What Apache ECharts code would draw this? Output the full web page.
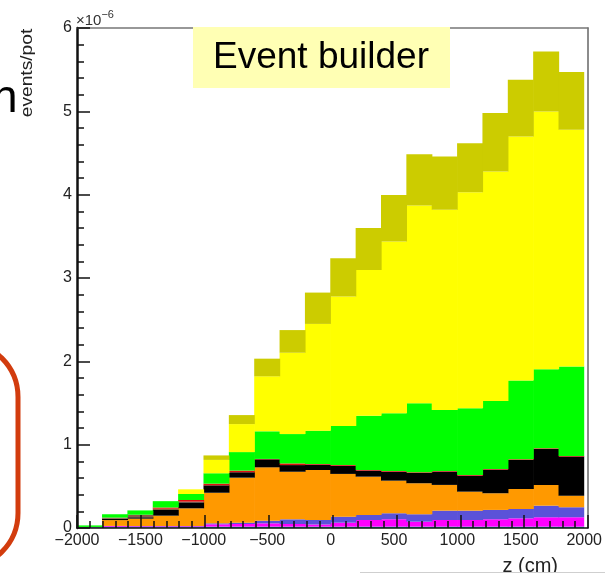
<!DOCTYPE html>
<html>
<head>
<meta charset="utf-8">
<script src="https://cdn.jsdelivr.net/npm/echarts@6/dist/echarts.min.js"></script>
<style>
  html, body { margin: 0; padding: 0; background: #fff; }
  #wrap { position: relative; width: 605px; height: 573px; }
  #c, #frame { position: absolute; left: 0; top: 0; width: 605px; height: 573px; }
  #frame { pointer-events: none; }
</style>
</head>
<body>
<div id="wrap">
  <div id="c"></div>
  <div id="frame"></div>
</div>
<script>
// z bins (lower edges, cm), each 200 cm wide
const zBins = ['-2000','-1800','-1600','-1400','-1200','-1000','-800','-600','-400','-200',
               '0','200','400','600','800','1000','1200','1400','1600','1800'];
const xTicks = [-2000, -1500, -1000, -500, 0, 500, 1000, 1500, 2000];
const yTicks = [0, 1, 2, 3, 4, 5, 6];

// stacked contributions, events/pot in units of 1e-6 (bottom to top)
const cyanVals    = [0.005,0.010,0.008,0.008,0.008,0.016,0.016,0.016,0.016,0.016,0.016,0.016,0.016,0.016,0.016,0.016,0.016,0.016,0.016,0.016];
const magentaVals = [0.003,0.012,0.012,0.012,0.012,0.028,0.032,0.040,0.032,0.026,0.048,0.080,0.089,0.060,0.080,0.080,0.089,0.100,0.113,0.113];
const blueVals    = [0.005,0.003,0.004,0.004,0.004,0.012,0.016,0.031,0.056,0.054,0.072,0.060,0.072,0.089,0.112,0.112,0.112,0.112,0.139,0.120];
const orangeVals  = [0,0.070,0.088,0.124,0.212,0.367,0.540,0.641,0.571,0.600,0.513,0.460,0.391,0.372,0.309,0.228,0.200,0.240,0.248,0.139];
const blackVals   = [0,0.015,0.017,0.068,0.072,0.089,0.065,0.096,0.080,0.064,0.098,0.072,0.108,0.124,0.160,0.192,0.284,0.349,0.433,0.469];
const brownVals   = [0,0.015,0.030,0.015,0.008,0,0,0,0,0,0,0,0,0,0,0,0,0,0,0];
const redVals     = [0,0,0,0.015,0.020,0.020,0.020,0.005,0.020,0.008,0.010,0.008,0.008,0.008,0.008,0.008,0.008,0.008,0.008,0.008];
const greenVals   = [0.018,0.040,0.052,0.076,0.072,0.125,0.222,0.331,0.352,0.400,0.468,0.652,0.693,0.828,0.732,0.800,0.816,0.944,0.948,1.072];
const yellowVals  = [0,0,0,0,0.056,0.160,0.336,0.660,0.976,1.281,1.552,1.749,2.060,2.372,2.401,2.593,2.753,2.929,3.092,2.841];
const oliveVals   = [0,0,0,0,0,0.054,0.108,0.212,0.272,0.376,0.461,0.504,0.560,0.617,0.640,0.588,0.701,0.680,0.720,0.693];

const layers = [
  { name: 'cyan',    data: cyanVals,    color: '#00c4c4' },
  { name: 'magenta', data: magentaVals, color: '#ff00ff' },
  { name: 'blue',    data: blueVals,    color: '#5b52d8' },
  { name: 'orange',  data: orangeVals,  color: '#ff9900' },
  { name: 'black',   data: blackVals,   color: '#000000' },
  { name: 'brown',   data: brownVals,   color: '#8a5a44' },
  { name: 'red',     data: redVals,     color: '#e01010' },
  { name: 'green',   data: greenVals,   color: '#00ff00' },
  { name: 'yellow',  data: yellowVals,  color: '#ffff00' },
  { name: 'olive',   data: oliveVals,   color: '#cccc00' }
];

const FONT = '"Liberation Sans", Arial, sans-serif';
const fmtX = v => (v < 0 ? '\u2212' + Math.abs(v) : String(v));
const GRID = { left: 77, right: 17, top: 28, bottom: 45 };

// ---- histogram, tick labels and slide decorations ----
const chart = echarts.init(document.getElementById('c'), null, { renderer: 'canvas' });
chart.setOption({
  animation: false,
  backgroundColor: '#ffffff',
  grid: GRID,
  xAxis: [
    {
      type: 'value', position: 'bottom',
      min: xTicks[0], max: xTicks[xTicks.length - 1], interval: 500,
      axisLine: { show: false, onZero: false }, axisTick: { show: false },
      axisLabel: { formatter: fmtX, fontSize: 16, color: '#222', margin: 5, fontFamily: FONT,
                   showMinLabel: true, showMaxLabel: true },
      splitLine: { show: false }
    },
    {
      type: 'category', position: 'top', data: zBins, boundaryGap: true,
      axisLine: { show: false, onZero: false }, axisTick: { show: false },
      axisLabel: { show: false }, splitLine: { show: false }
    }
  ],
  yAxis: [
    {
      type: 'value', position: 'left', min: yTicks[0], max: yTicks[yTicks.length - 1], interval: 1,
      axisLine: { show: false, onZero: false }, axisTick: { show: false },
      axisLabel: { fontSize: 16, color: '#222', margin: 5, fontFamily: FONT },
      splitLine: { show: false }
    }
  ],
  series: layers.map(l => ({
    type: 'bar', name: l.name, stack: 'total',
    xAxisIndex: 1, yAxisIndex: 0,
    barWidth: 26, barGap: '-100%',
    data: l.data,
    itemStyle: { color: l.color, borderWidth: 0 },
    silent: true
  })),
  graphic: [
    // slide fragment: red rounded frame on the left
    { type: 'rect', z: 10, shape: { x: -200, y: 342, width: 218, height: 226, r: 55 },
      style: { fill: 'none', stroke: '#d23c0e', lineWidth: 5 } },
    // slide fragment: cut-off heading letter
    { type: 'text', z: 10, style: { text: 'n', x: -8, y: 99, font: '46px ' + FONT, fill: '#000',
      textAlign: 'left', textVerticalAlign: 'middle' } },
    // y-axis title
    { type: 'text', z: 10, rotation: Math.PI / 2, x: 28, y: 73, scaleX: 1.2,
      style: { text: 'events/pot', x: 0, y: 0, font: '16px ' + FONT, fill: '#222',
      textAlign: 'center', textVerticalAlign: 'middle' } },
    // exponent of the y axis
    { type: 'text', z: 10, style: { text: '{b|\u00d710}{s|\u22126}', x: 76, y: 21,
      textVerticalAlign: 'middle', rich: {
        b: { fontSize: 15, fontFamily: FONT, fill: '#333', color: '#333' },
        s: { fontSize: 11, fontFamily: FONT, fill: '#333', color: '#333', padding: [0, 0, 12, 0] }
      } } },
    // x-axis title
    { type: 'text', z: 10, style: { text: 'z (cm)', x: 558, y: 566, font: '20px ' + FONT,
      fill: '#222', textAlign: 'right', textVerticalAlign: 'middle' } },
    // slide fragment: thin rule at the bottom
    { type: 'line', z: 10, shape: { x1: 360, y1: 572.5, x2: 605, y2: 572.5 },
      style: { stroke: '#cfcfcf', lineWidth: 1 } }
  ]
});

// ---- frame, axis lines and inward ticks, drawn on top of the histogram ----
const frame = echarts.init(document.getElementById('frame'), null, { renderer: 'canvas' });
frame.setOption({
  animation: false,
  grid: GRID,
  xAxis: [
    { type: 'value', position: 'bottom', min: xTicks[0], max: xTicks[xTicks.length - 1], interval: 500,
      axisLine: { show: true, onZero: false, lineStyle: { color: '#111', width: 1.5 } },
      axisTick: { show: true, inside: true, length: 13, lineStyle: { color: '#111', width: 1.5 } },
      minorTick: { show: true, splitNumber: 5, length: 7, lineStyle: { color: '#111', width: 1.5 } },
      axisLabel: { show: false }, splitLine: { show: false } },
    { type: 'value', position: 'top', min: xTicks[0], max: xTicks[xTicks.length - 1],
      axisLine: { show: true, onZero: false, lineStyle: { color: '#777', width: 1.5 } },
      axisTick: { show: false }, axisLabel: { show: false }, splitLine: { show: false } }
  ],
  yAxis: [
    { type: 'value', position: 'left', min: yTicks[0], max: yTicks[yTicks.length - 1], interval: 1,
      axisLine: { show: true, onZero: false, lineStyle: { color: '#111', width: 2.5 } },
      axisTick: { show: true, inside: true, length: 13, lineStyle: { color: '#111', width: 1.5 } },
      minorTick: { show: true, splitNumber: 5, length: 7, lineStyle: { color: '#111', width: 1.5 } },
      axisLabel: { show: false }, splitLine: { show: false } },
    { type: 'value', position: 'right', min: yTicks[0], max: yTicks[yTicks.length - 1],
      axisLine: { show: true, onZero: false, lineStyle: { color: '#666', width: 1.5 } },
      axisTick: { show: false }, axisLabel: { show: false }, splitLine: { show: false } }
  ],
  series: [],
  graphic: [
    // title box over the frame
    { type: 'rect', z: 10, shape: { x: 193, y: 27, width: 257, height: 61 },
      style: { fill: '#ffffb4' } },
    { type: 'text', z: 11, style: { text: 'Event builder', x: 213, y: 58, font: '37px ' + FONT,
      fill: '#000', textAlign: 'left', textVerticalAlign: 'middle' } }
  ]
});
</script>
</body>
</html>
